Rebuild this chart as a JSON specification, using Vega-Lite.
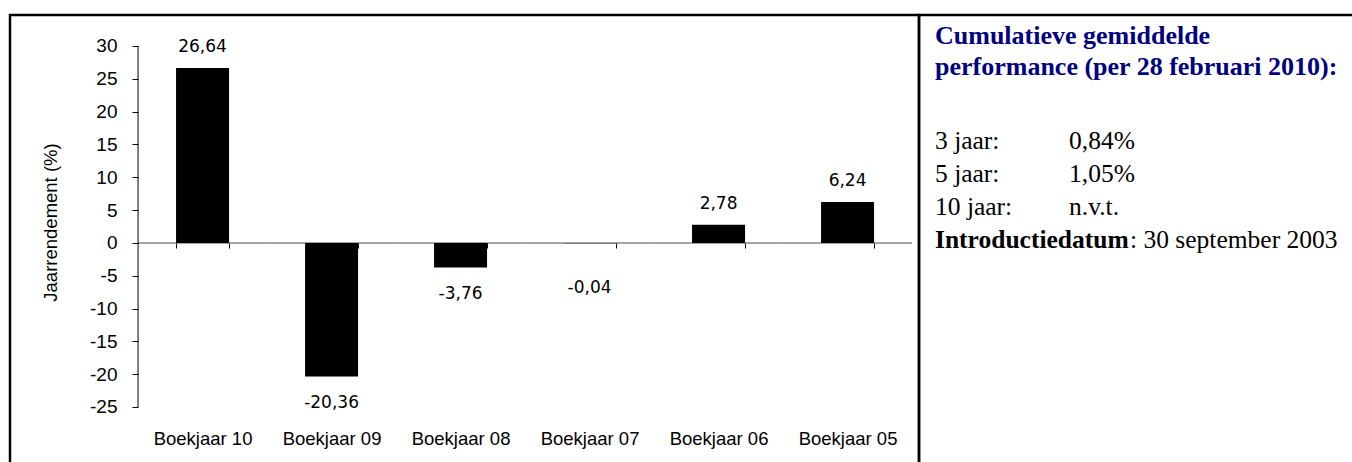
{
  "$schema": "https://vega.github.io/schema/vega-lite/v6.json",
  "padding": {"left": 8, "top": 13, "right": 0, "bottom": 0},
  "background": "white",
  "spacing": 0,
  "bounds": "flush",
  "config": {"view": {"stroke": "#000", "strokeWidth": 2.5}, "font": "Liberation Sans"},
  "datasets": {
    "perf": [
      {"boekjaar": "Boekjaar 10", "rendement": 26.64, "label": "26,64"},
      {"boekjaar": "Boekjaar 09", "rendement": -20.36, "label": "-20,36"},
      {"boekjaar": "Boekjaar 08", "rendement": -3.76, "label": "-3,76"},
      {"boekjaar": "Boekjaar 07", "rendement": -0.04, "label": "-0,04"},
      {"boekjaar": "Boekjaar 06", "rendement": 2.78, "label": "2,78"},
      {"boekjaar": "Boekjaar 05", "rendement": 6.24, "label": "6,24"}
    ],
    "kop": [
      {"rij": "h1", "kolom": "k", "tekst": "Cumulatieve gemiddelde"},
      {"rij": "h2", "kolom": "k", "tekst": "performance (per 28 februari 2010):"}
    ],
    "tabel": [
      {"rij": "r3", "kolom": "k", "tekst": "3 jaar:"},
      {"rij": "r3", "kolom": "v", "tekst": "0,84%"},
      {"rij": "r5", "kolom": "k", "tekst": "5 jaar:"},
      {"rij": "r5", "kolom": "v", "tekst": "1,05%"},
      {"rij": "r10", "kolom": "k", "tekst": "10 jaar:"},
      {"rij": "r10", "kolom": "v", "tekst": "n.v.t."}
    ],
    "intro": [
      {"rij": "intro", "kolom": "k", "tekst": "Introductiedatum"}
    ],
    "introdatum": [
      {"rij": "intro", "kolom": "k", "tekst": ": 30 september 2003"}
    ]
  },
  "hconcat": [
    {
      "width": 909,
      "height": 451,
      "view": {"stroke": "#000", "strokeWidth": 2.5},
      "data": {"name": "perf"},
      "encoding": {
        "x": {
          "field": "boekjaar",
          "type": "nominal",
          "sort": null,
          "scale": {"paddingInner": 0.5891, "paddingOuter": 0.8178, "align": 0.787},
          "axis": {
            "title": null,
            "orient": "bottom",
            "offset": -223,
            "domain": false,
            "tickBand": "extent",
            "tickSize": 5,
            "tickColor": "#000",
            "labelPadding": 196,
            "labelBaseline": "alphabetic",
            "labelFont": "Liberation Sans",
            "labelFontSize": 18.5,
            "labelColor": "#000",
            "labelAngle": 0
          }
        }
      },
      "layer": [
        {
          "mark": {"type": "bar", "color": "#000"},
          "encoding": {
            "y": {
              "field": "rendement",
              "type": "quantitative",
              "scale": {"domain": [-33.99, 34.723], "nice": false, "zero": false},
              "axis": {
                "title": "Jaarrendement (%)",
                "orient": "left",
                "offset": -128,
                "domain": false,
                "grid": false,
                "values": [-25, -20, -15, -10, -5, 0, 5, 10, 15, 20, 25, 30],
                "tickSize": 6,
                "tickColor": "#000",
                "labelPadding": 15,
                "labelFont": "Liberation Sans",
                "labelFontSize": 19,
                "labelColor": "#000",
                "labelExpr": "datum.value < 0 ? '-' + abs(datum.value) : '' + datum.value",
                "titleFont": "Liberation Sans",
                "titleFontSize": 18.5,
                "titleFontWeight": "normal",
                "titleColor": "#000",
                "titleAngle": -90,
                "titleX": -88,
                "titleY": 207,
                "titleAlign": "center",
                "titleBaseline": "middle"
              }
            }
          }
        },
        {
          "mark": {"type": "tick", "orient": "horizontal", "size": 129, "thickness": 1, "color": "#000"},
          "encoding": {"y": {"datum": 0}}
        },
        {
          "transform": [{"filter": "datum.boekjaar === 'Boekjaar 10'"}],
          "mark": {"type": "rule", "xOffset": -64.5, "color": "#000", "strokeWidth": 1},
          "encoding": {"y": {"datum": -25}, "y2": {"datum": 30}}
        },
        {
          "transform": [{"filter": "datum.rendement > 0"}],
          "mark": {"type": "text", "baseline": "alphabetic", "dy": -16, "font": "DejaVu Sans", "fontSize": 17, "color": "#000"},
          "encoding": {"y": {"field": "rendement", "type": "quantitative"}, "text": {"field": "label"}}
        },
        {
          "transform": [{"filter": "datum.rendement < -1"}],
          "mark": {"type": "text", "baseline": "alphabetic", "dy": 31, "font": "DejaVu Sans", "fontSize": 17, "color": "#000"},
          "encoding": {"y": {"field": "rendement", "type": "quantitative"}, "text": {"field": "label"}}
        },
        {
          "transform": [{"filter": "datum.rendement < 0 && datum.rendement >= -1"}],
          "mark": {"type": "text", "baseline": "alphabetic", "dy": 50, "font": "DejaVu Sans", "fontSize": 17, "color": "#000"},
          "encoding": {"y": {"field": "rendement", "type": "quantitative"}, "text": {"field": "label"}}
        }
      ]
    },
    {
      "width": 440,
      "height": 451,
      "view": {"stroke": "#000", "strokeWidth": 2.5},
      "resolve": {"scale": {"y": "independent"}},
      "layer": [
        {
          "data": {"name": "kop"},
          "mark": {"type": "text", "align": "left", "baseline": "alphabetic", "font": "Liberation Serif", "fontSize": 26, "fontWeight": "bold", "color": "#000080"},
          "encoding": {
            "x": {"field": "kolom", "type": "nominal", "scale": {"type": "point", "domain": ["k", "v"], "range": [16, 150], "padding": 0}, "axis": null},
            "y": {"field": "rij", "type": "nominal", "scale": {"type": "point", "domain": ["h1", "h2"], "range": [29, 60], "padding": 0}, "axis": null},
            "text": {"field": "tekst"}
          }
        },
        {
          "data": {"name": "tabel"},
          "mark": {"type": "text", "align": "left", "baseline": "alphabetic", "font": "Liberation Serif", "fontSize": 25.5, "color": "#000"},
          "encoding": {
            "x": {"field": "kolom", "type": "nominal", "scale": {"type": "point", "domain": ["k", "v"], "range": [16, 150], "padding": 0}, "axis": null},
            "y": {"field": "rij", "type": "nominal", "scale": {"type": "point", "domain": ["r3", "r5", "r10", "intro"], "range": [134, 233], "padding": 0}, "axis": null},
            "text": {"field": "tekst"}
          }
        },
        {
          "data": {"name": "intro"},
          "mark": {"type": "text", "align": "left", "baseline": "alphabetic", "font": "Liberation Serif", "fontSize": 25.5, "fontWeight": "bold", "color": "#000"},
          "encoding": {
            "x": {"field": "kolom", "type": "nominal", "scale": {"type": "point", "domain": ["k", "v"], "range": [16, 150], "padding": 0}, "axis": null},
            "y": {"field": "rij", "type": "nominal", "scale": {"type": "point", "domain": ["r3", "r5", "r10", "intro"], "range": [134, 233], "padding": 0}, "axis": null},
            "text": {"field": "tekst"}
          }
        },
        {
          "data": {"name": "introdatum"},
          "mark": {"type": "text", "align": "left", "baseline": "alphabetic", "dx": 195, "font": "Liberation Serif", "fontSize": 25.5, "color": "#000"},
          "encoding": {
            "x": {"field": "kolom", "type": "nominal", "scale": {"type": "point", "domain": ["k", "v"], "range": [16, 150], "padding": 0}, "axis": null},
            "y": {"field": "rij", "type": "nominal", "scale": {"type": "point", "domain": ["r3", "r5", "r10", "intro"], "range": [134, 233], "padding": 0}, "axis": null},
            "text": {"field": "tekst"}
          }
        }
      ]
    }
  ]
}
